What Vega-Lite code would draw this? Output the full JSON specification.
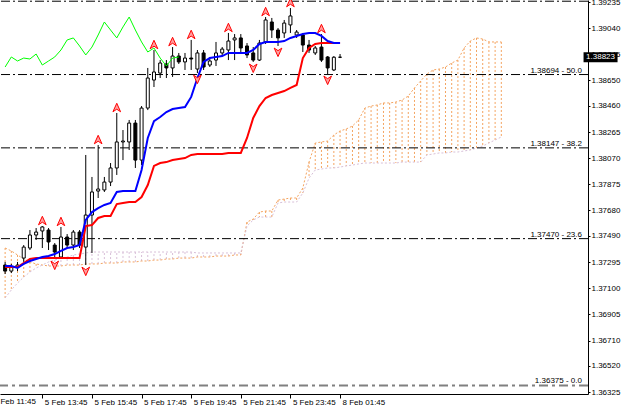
{
"$schema": "https://vega.github.io/schema/vega-lite/v6.json",
"width": 588, "height": 394,
"autosize": {"type": "none"},
"padding": {"left": 0, "top": 0, "right": 37, "bottom": 19},
"background": "white",
"config": {
 "view": {"stroke": null},
 "font": "Liberation Sans",
 "axisX": {"domainColor": "black", "tickColor": "black", "tickSize": 4, "labelColor": "black", "labelFontSize": 8, "labelFont": "Liberation Sans", "labelAlign": "left", "labelBaseline": "top", "labelPadding": 0, "labelOffset": 2, "grid": false, "labelOverlap": false, "labelFlush": false, "labelBound": false},
 "axisY": {"domainColor": "black", "tickColor": "black", "tickSize": 2, "labelColor": "black", "labelFontSize": 8, "labelFont": "Liberation Sans", "labelPadding": 1, "grid": false, "labelOverlap": false, "labelFlush": false, "labelBound": false}
},
"datasets": {
 "candles": [
{"i":0,"o":1.37273,"h":1.37296,"l":1.37206,"c":1.37228,"tk":1.37266,"kj":1.37258},
{"i":1,"o":1.37228,"h":1.37281,"l":1.37213,"c":1.37258,"tk":1.37266,"kj":1.37258},
{"i":2,"o":1.37258,"h":1.37296,"l":1.37228,"c":1.37273,"tk":1.37251,"kj":1.37258},
{"i":3,"o":1.37325,"h":1.37422,"l":1.37296,"c":1.37407,"tk":1.37281,"kj":1.37288},
{"i":4,"o":1.37400,"h":1.37534,"l":1.37385,"c":1.37497,"tk":1.37303,"kj":1.37318},
{"i":5,"o":1.37497,"h":1.37549,"l":1.37460,"c":1.37519,"tk":1.37318,"kj":1.37325},
{"i":6,"o":1.37527,"h":1.37564,"l":1.37400,"c":1.37557,"tk":1.37333,"kj":1.37325},
{"i":7,"o":1.37534,"h":1.37549,"l":1.37385,"c":1.37445,"tk":1.37340,"kj":1.37325},
{"i":8,"o":1.37422,"h":1.37437,"l":1.37318,"c":1.37370,"tk":1.37355,"kj":1.37325},
{"i":9,"o":1.37333,"h":1.37557,"l":1.37330,"c":1.37482,"tk":1.37378,"kj":1.37325},
{"i":10,"o":1.37482,"h":1.37504,"l":1.37400,"c":1.37422,"tk":1.37400,"kj":1.37325},
{"i":11,"o":1.37422,"h":1.37534,"l":1.37385,"c":1.37519,"tk":1.37407,"kj":1.37325},
{"i":12,"o":1.37519,"h":1.37534,"l":1.37400,"c":1.37422,"tk":1.37422,"kj":1.37325},
{"i":13,"o":1.37407,"h":1.38094,"l":1.37273,"c":1.37646,"tk":1.37609,"kj":1.37564},
{"i":14,"o":1.37646,"h":1.37930,"l":1.37363,"c":1.37818,"tk":1.37668,"kj":1.37571},
{"i":15,"o":1.37825,"h":1.38168,"l":1.37773,"c":1.37840,"tk":1.37698,"kj":1.37624},
{"i":16,"o":1.37833,"h":1.37930,"l":1.37818,"c":1.37892,"tk":1.37721,"kj":1.37639},
{"i":17,"o":1.37892,"h":1.38034,"l":1.37862,"c":1.37997,"tk":1.37736,"kj":1.37639},
{"i":18,"o":1.37997,"h":1.38407,"l":1.37945,"c":1.38191,"tk":1.37818,"kj":1.37728},
{"i":19,"o":1.38191,"h":1.38280,"l":1.38056,"c":1.38198,"tk":1.37825,"kj":1.37736},
{"i":20,"o":1.38191,"h":1.38355,"l":1.38131,"c":1.38332,"tk":1.37825,"kj":1.37743},
{"i":21,"o":1.38332,"h":1.38355,"l":1.37997,"c":1.38056,"tk":1.37825,"kj":1.37743},
{"i":22,"o":1.38056,"h":1.38459,"l":1.38019,"c":1.38444,"tk":1.37982,"kj":1.37780},
{"i":23,"o":1.38444,"h":1.38743,"l":1.38429,"c":1.38668,"tk":1.38221,"kj":1.37870},
{"i":24,"o":1.38653,"h":1.38877,"l":1.38601,"c":1.38713,"tk":1.38347,"kj":1.38012},
{"i":25,"o":1.38705,"h":1.38802,"l":1.38668,"c":1.38780,"tk":1.38377,"kj":1.38034},
{"i":26,"o":1.38773,"h":1.38802,"l":1.38668,"c":1.38743,"tk":1.38414,"kj":1.38041},
{"i":27,"o":1.38743,"h":1.38899,"l":1.38676,"c":1.38832,"tk":1.38437,"kj":1.38056},
{"i":28,"o":1.38832,"h":1.38855,"l":1.38773,"c":1.38788,"tk":1.38444,"kj":1.38064},
{"i":29,"o":1.38788,"h":1.38855,"l":1.38728,"c":1.38817,"tk":1.38452,"kj":1.38071},
{"i":30,"o":1.38817,"h":1.38952,"l":1.38728,"c":1.38810,"tk":1.38527,"kj":1.38094},
{"i":31,"o":1.38735,"h":1.38877,"l":1.38705,"c":1.38855,"tk":1.38668,"kj":1.38101},
{"i":32,"o":1.38855,"h":1.38877,"l":1.38728,"c":1.38750,"tk":1.38788,"kj":1.38101},
{"i":33,"o":1.38765,"h":1.38825,"l":1.38750,"c":1.38795,"tk":1.38817,"kj":1.38101},
{"i":34,"o":1.38802,"h":1.38937,"l":1.38758,"c":1.38855,"tk":1.38825,"kj":1.38101},
{"i":35,"o":1.38855,"h":1.38899,"l":1.38832,"c":1.38884,"tk":1.38832,"kj":1.38101},
{"i":36,"o":1.38877,"h":1.39004,"l":1.38802,"c":1.38944,"tk":1.38855,"kj":1.38109},
{"i":37,"o":1.38952,"h":1.38996,"l":1.38802,"c":1.38967,"tk":1.38855,"kj":1.38109},
{"i":38,"o":1.38967,"h":1.38996,"l":1.38847,"c":1.38892,"tk":1.38855,"kj":1.38109},
{"i":39,"o":1.38907,"h":1.38929,"l":1.38817,"c":1.38840,"tk":1.38855,"kj":1.38221},
{"i":40,"o":1.38855,"h":1.38899,"l":1.38788,"c":1.38802,"tk":1.38877,"kj":1.38370},
{"i":41,"o":1.38802,"h":1.38952,"l":1.38795,"c":1.38929,"tk":1.38922,"kj":1.38459},
{"i":42,"o":1.38937,"h":1.39123,"l":1.38922,"c":1.39101,"tk":1.38937,"kj":1.38519},
{"i":43,"o":1.39086,"h":1.39116,"l":1.38967,"c":1.39026,"tk":1.38937,"kj":1.38541},
{"i":44,"o":1.39026,"h":1.39041,"l":1.38907,"c":1.38967,"tk":1.38937,"kj":1.38556},
{"i":45,"o":1.39004,"h":1.39101,"l":1.38967,"c":1.39078,"tk":1.38944,"kj":1.38571},
{"i":46,"o":1.39064,"h":1.39190,"l":1.39004,"c":1.39131,"tk":1.38967,"kj":1.38594},
{"i":47,"o":1.38989,"h":1.39026,"l":1.38967,"c":1.39011,"tk":1.38982,"kj":1.38616},
{"i":48,"o":1.38989,"h":1.39004,"l":1.38862,"c":1.38914,"tk":1.38996,"kj":1.38817},
{"i":49,"o":1.38914,"h":1.38952,"l":1.38855,"c":1.38877,"tk":1.39004,"kj":1.38892},
{"i":50,"o":1.38855,"h":1.38907,"l":1.38840,"c":1.38892,"tk":1.39004,"kj":1.38922},
{"i":51,"o":1.38899,"h":1.38996,"l":1.38788,"c":1.38802,"tk":1.38982,"kj":1.38929},
{"i":52,"o":1.38825,"h":1.38832,"l":1.38698,"c":1.38743,"tk":1.38944,"kj":1.38929},
{"i":53,"o":1.38728,"h":1.38832,"l":1.38720,"c":1.38823,"tk":1.38929,"kj":1.38929},
{"i":54,"o":1.38823,"h":1.38847,"l":1.38817,"c":1.38823,"tk":1.38929,"kj":1.38929}
 ],
 "chikou": [
{"i":0,"v":1.38750},{"i":1,"v":1.38825},{"i":2,"v":1.38795},{"i":3,"v":1.38817},{"i":4,"v":1.38810},
{"i":5,"v":1.38847},{"i":6,"v":1.38765},{"i":7,"v":1.38795},{"i":8,"v":1.38825},{"i":9,"v":1.38877},
{"i":10,"v":1.38952},{"i":11,"v":1.38967},{"i":12,"v":1.38907},{"i":13,"v":1.38840},{"i":14,"v":1.38899},
{"i":15,"v":1.38989},{"i":16,"v":1.39086},{"i":17,"v":1.39026},{"i":18,"v":1.38967},{"i":19,"v":1.39049},
{"i":20,"v":1.39123},{"i":21,"v":1.39026},{"i":22,"v":1.38937},{"i":23,"v":1.38862},{"i":24,"v":1.38892},
{"i":25,"v":1.38817},{"i":26,"v":1.38758},{"i":27,"v":1.38817},{"i":28,"v":1.38825}
 ],
 "cloud": [
{"i":0,"a":1.37400,"b":1.37027},{"i":1,"a":1.37378,"b":1.37087},{"i":2,"a":1.37348,"b":1.37139},
{"i":3,"a":1.37318,"b":1.37183},{"i":4,"a":1.37296,"b":1.37221},{"i":5,"a":1.37281,"b":1.37251},
{"i":6,"a":1.37273,"b":1.37273},{"i":7,"a":1.37266,"b":1.37296},{"i":8,"a":1.37266,"b":1.37310},
{"i":9,"a":1.37266,"b":1.37325},{"i":10,"a":1.37273,"b":1.37333},{"i":11,"a":1.37273,"b":1.37348},
{"i":12,"a":1.37273,"b":1.37355},{"i":13,"a":1.37281,"b":1.37363},{"i":14,"a":1.37281,"b":1.37370},
{"i":15,"a":1.37281,"b":1.37370},{"i":16,"a":1.37288,"b":1.37370},{"i":17,"a":1.37288,"b":1.37370},
{"i":18,"a":1.37288,"b":1.37370},{"i":19,"a":1.37296,"b":1.37370},{"i":20,"a":1.37296,"b":1.37370},
{"i":21,"a":1.37296,"b":1.37370},{"i":22,"a":1.37303,"b":1.37370},{"i":23,"a":1.37303,"b":1.37370},
{"i":24,"a":1.37310,"b":1.37370},{"i":25,"a":1.37310,"b":1.37370},{"i":26,"a":1.37318,"b":1.37370},
{"i":27,"a":1.37318,"b":1.37370},{"i":28,"a":1.37325,"b":1.37370},{"i":29,"a":1.37325,"b":1.37370},
{"i":30,"a":1.37325,"b":1.37370},{"i":31,"a":1.37333,"b":1.37363},{"i":32,"a":1.37333,"b":1.37363},
{"i":33,"a":1.37333,"b":1.37363},{"i":34,"a":1.37340,"b":1.37363},{"i":35,"a":1.37340,"b":1.37363},
{"i":36,"a":1.37340,"b":1.37363},{"i":37,"a":1.37348,"b":1.37363},{"i":38,"a":1.37348,"b":1.37363},
{"i":39,"a":1.37594,"b":1.37564},{"i":40,"a":1.37616,"b":1.37609},{"i":41,"a":1.37668,"b":1.37631},
{"i":42,"a":1.37676,"b":1.37631},{"i":43,"a":1.37676,"b":1.37631},{"i":44,"a":1.37758,"b":1.37736},
{"i":45,"a":1.37765,"b":1.37743},{"i":46,"a":1.37773,"b":1.37743},{"i":47,"a":1.37773,"b":1.37743},
{"i":48,"a":1.37848,"b":1.37810},{"i":49,"a":1.38041,"b":1.37922},{"i":50,"a":1.38183,"b":1.37982},
{"i":51,"a":1.38191,"b":1.37989},{"i":52,"a":1.38198,"b":1.37997},{"i":53,"a":1.38243,"b":1.37997},
{"i":54,"a":1.38273,"b":1.38004},{"i":55,"a":1.38288,"b":1.38012},{"i":56,"a":1.38310,"b":1.38019},
{"i":57,"a":1.38355,"b":1.38027},{"i":58,"a":1.38444,"b":1.38034},{"i":59,"a":1.38459,"b":1.38034},
{"i":60,"a":1.38467,"b":1.38034},{"i":61,"a":1.38482,"b":1.38034},{"i":62,"a":1.38482,"b":1.38034},
{"i":63,"a":1.38489,"b":1.38034},{"i":64,"a":1.38504,"b":1.38041},{"i":65,"a":1.38534,"b":1.38041},
{"i":66,"a":1.38594,"b":1.38041},{"i":67,"a":1.38646,"b":1.38041},{"i":68,"a":1.38698,"b":1.38094},
{"i":69,"a":1.38728,"b":1.38101},{"i":70,"a":1.38735,"b":1.38109},{"i":71,"a":1.38750,"b":1.38109},
{"i":72,"a":1.38780,"b":1.38116},{"i":73,"a":1.38802,"b":1.38116},{"i":74,"a":1.38892,"b":1.38124},
{"i":75,"a":1.38944,"b":1.38131},{"i":76,"a":1.38967,"b":1.38146},{"i":77,"a":1.38959,"b":1.38161},
{"i":78,"a":1.38937,"b":1.38183},{"i":79,"a":1.38937,"b":1.38206},{"i":80,"a":1.38937,"b":1.38228}
 ],
 "fib": [
{"level":61.8,"p":1.39241,"label":"1.39241 - 61.8"},
{"level":50.0,"p":1.38694,"label":"1.38694 - 50.0"},
{"level":38.2,"p":1.38147,"label":"1.38147 - 38.2"},
{"level":23.6,"p":1.37470,"label":"1.37470 - 23.6"},
{"level":0,"p":1.36375,"label":"1.36375 - 0.0"}
 ],
 "fractals": [
{"i":6,"p":1.37564,"d":"up"},{"i":9,"p":1.37557,"d":"up"},{"i":15,"p":1.38168,"d":"up"},
{"i":18,"p":1.38407,"d":"up"},{"i":24,"p":1.38877,"d":"up"},{"i":27,"p":1.38899,"d":"up"},
{"i":30,"p":1.38952,"d":"up"},{"i":36,"p":1.39004,"d":"up"},{"i":42,"p":1.39123,"d":"up"},
{"i":46,"p":1.39190,"d":"up"},{"i":51,"p":1.38996,"d":"up"},
{"i":8,"p":1.37318,"d":"down"},{"i":13,"p":1.37273,"d":"down"},{"i":31,"p":1.38705,"d":"down"},
{"i":40,"p":1.38788,"d":"down"},{"i":44,"p":1.38907,"d":"down"},{"i":52,"p":1.38698,"d":"down"}
 ],
 "last": [{"p":1.38823,"label":"1.38823"}],
 "firsttick": [{"i":-2,"p":1.36311,"label":"5 Feb 11:45"}]
},
"layer": [
 {"data": {"name": "cloud"},
  "mark": {"type": "rule", "strokeDash": [2, 2], "strokeWidth": 1},
  "encoding": {
   "x": {"field": "i", "type": "quantitative", "title": null,
         "scale": {"domain": [-0.02, 93.17], "nice": false, "zero": false},
         "axis": {"values": [-2, 6, 14, 22, 30, 38, 46, 54], "tickCount": 20, "title": null, "labelOverlap": false, "labelBound": false, "labelFlush": false,
                  "labelExpr": "['5 Feb 11:45','5 Feb 13:45','5 Feb 15:45','5 Feb 17:45','5 Feb 19:45','5 Feb 21:45','5 Feb 23:45','8 Feb 01:45'][(datum.value + 2) / 8]"}},
   "y": {"field": "a", "type": "quantitative", "title": null,
         "scale": {"domain": [1.36311, 1.3925], "nice": false, "zero": false},
         "axis": {"orient": "right", "title": null, "format": ".5f", "tickCount": 40, "labelOverlap": false, "labelBound": false, "labelFlush": false,
                  "values": [1.39235, 1.3904, 1.38845, 1.3865, 1.3846, 1.38265, 1.3807, 1.37875, 1.3768, 1.3749, 1.37295, 1.371, 1.36905, 1.3671, 1.3652, 1.36325]}},
   "y2": {"field": "b"},
   "color": {"condition": {"test": "datum.a >= datum.b", "value": "#f4a460"}, "value": "#d8bfd8"}
  }},
 {"data": {"name": "cloud"},
  "mark": {"type": "line", "strokeDash": [2, 2], "strokeWidth": 1, "color": "#f4a460"},
  "encoding": {"x": {"field": "i", "type": "quantitative", "title": null}, "y": {"field": "a", "type": "quantitative", "title": null}}},
 {"data": {"name": "cloud"},
  "mark": {"type": "line", "strokeDash": [2, 2], "strokeWidth": 1, "color": "#d8bfd8"},
  "encoding": {"x": {"field": "i", "type": "quantitative", "title": null}, "y": {"field": "b", "type": "quantitative", "title": null}}},
 {"data": {"name": "fib"},
  "transform": [{"filter": "datum.level > 0"}],
  "mark": {"type": "rule", "color": "black", "strokeWidth": 1, "strokeDash": [9, 3, 2, 3]},
  "encoding": {"y": {"field": "p", "type": "quantitative", "title": null}}},
 {"data": {"name": "fib"},
  "transform": [{"filter": "datum.level == 0"}],
  "mark": {"type": "rule", "color": "#808080", "strokeWidth": 2, "strokeDash": [9, 4, 3, 4]},
  "encoding": {"y": {"field": "p", "type": "quantitative", "title": null}}},
 {"data": {"name": "fib"},
  "mark": {"type": "text", "align": "right", "baseline": "alphabetic", "dx": -1, "dy": -2, "fontSize": 8, "font": "Liberation Sans", "color": "black"},
  "encoding": {"x": {"datum": 93.17, "type": "quantitative"}, "y": {"field": "p", "type": "quantitative", "title": null}, "text": {"field": "label"}}},
 {"data": {"name": "firsttick"},
  "mark": {"type": "text", "align": "left", "baseline": "top", "dx": 1, "dy": 4, "fontSize": 8, "font": "Liberation Sans", "color": "black"},
  "encoding": {"x": {"field": "i", "type": "quantitative", "title": null}, "y": {"field": "p", "type": "quantitative", "title": null}, "text": {"field": "label"}}},
 {"data": {"name": "candles"},
  "mark": {"type": "rule", "color": "black", "strokeWidth": 1},
  "encoding": {"x": {"field": "i", "type": "quantitative", "title": null}, "y": {"field": "l", "type": "quantitative", "title": null}, "y2": {"field": "h"}}},
 {"data": {"name": "candles"},
  "mark": {"type": "bar", "size": 3, "stroke": "black", "strokeWidth": 1, "orient": "vertical"},
  "encoding": {"x": {"field": "i", "type": "quantitative", "title": null}, "y": {"field": "o", "type": "quantitative", "title": null}, "y2": {"field": "c"},
   "fill": {"condition": {"test": "datum.c >= datum.o", "value": "white"}, "value": "black"}}},
 {"data": {"name": "chikou"},
  "mark": {"type": "line", "color": "#00ff00", "strokeWidth": 1},
  "encoding": {"x": {"field": "i", "type": "quantitative", "title": null}, "y": {"field": "v", "type": "quantitative", "title": null}}},
 {"data": {"name": "candles"},
  "mark": {"type": "line", "color": "#ff0000", "strokeWidth": 2},
  "encoding": {"x": {"field": "i", "type": "quantitative", "title": null}, "y": {"field": "kj", "type": "quantitative", "title": null}}},
 {"data": {"name": "candles"},
  "mark": {"type": "line", "color": "#0000ff", "strokeWidth": 2},
  "encoding": {"x": {"field": "i", "type": "quantitative", "title": null}, "y": {"field": "tk", "type": "quantitative", "title": null}}},
 {"data": {"name": "fractals"},
  "transform": [{"filter": "datum.d == 'up'"}],
  "mark": {"type": "point", "shape": "M0,-2.3L0.9,-0.3L0,-0.9L-0.9,-0.3Z", "size": 72, "filled": true, "fill": "#ffa0a0", "stroke": "#ff0000", "strokeWidth": 1, "opacity": 1},
  "encoding": {"x": {"field": "i", "type": "quantitative", "title": null}, "y": {"field": "p", "type": "quantitative", "title": null}}},
 {"data": {"name": "fractals"},
  "transform": [{"filter": "datum.d == 'down'"}],
  "mark": {"type": "point", "shape": "M0,2.5L0.9,0.5L0,1.1L-0.9,0.5Z", "size": 72, "filled": true, "fill": "#ffa0a0", "stroke": "#ff0000", "strokeWidth": 1, "opacity": 1},
  "encoding": {"x": {"field": "i", "type": "quantitative", "title": null}, "y": {"field": "p", "type": "quantitative", "title": null}}},
 {"data": {"name": "last"},
  "mark": {"type": "point", "shape": "M-1,-0.3L1,-0.3L1,0.3L-1,0.3Z", "size": 1156, "filled": true, "fill": "black", "strokeWidth": 0, "opacity": 1},
  "encoding": {"x": {"datum": 96.0, "type": "quantitative"}, "y": {"field": "p", "type": "quantitative", "title": null}}},
 {"data": {"name": "last"},
  "mark": {"type": "text", "align": "center", "baseline": "middle", "fontSize": 8, "font": "Liberation Sans", "color": "white"},
  "encoding": {"x": {"datum": 96.0, "type": "quantitative"}, "y": {"field": "p", "type": "quantitative", "title": null}, "text": {"field": "label"}}}
]
}
